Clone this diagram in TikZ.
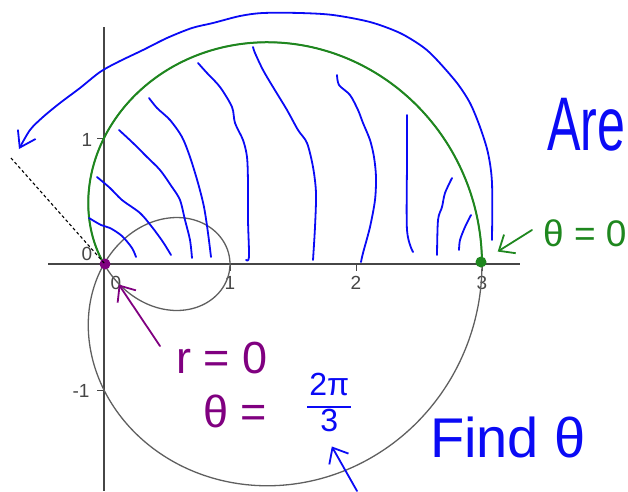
\documentclass[tikz,border=0pt]{standalone}
\usepackage{amsmath,amssymb}
\usepackage{fontspec}
\setmainfont{Liberation Sans}
\usetikzlibrary{arrows.meta,positioning}
\definecolor{penBlue}{RGB}{10,10,245}
\definecolor{penGreen}{RGB}{30,135,30}
\definecolor{penPurple}{RGB}{128,0,128}
\definecolor{axisGray}{RGB}{70,70,70}
\definecolor{loopGray}{RGB}{95,95,95}
\tikzset{
  axis/.style={draw=axisGray, line width=1.4pt},
  loopline/.style={draw=loopGray, line width=1.3pt},
  ink/.style={draw=penBlue, line width=1.8pt, line cap=round, line join=round},
  greenink/.style={ink, draw=penGreen},
  purpleink/.style={ink, draw=penPurple},
  barb/.style={-{Straight Barb[length=13pt, width=22pt]}},
  ticklabel/.style={text=axisGray, font=\fontsize{19}{19}\selectfont, inner sep=0pt},
  hand/.style={inner sep=0pt, text=penBlue},
  dot/.style={circle, inner sep=0pt, minimum size=11pt}
}

\begin{document}
\begin{tikzpicture}[x=1pt, y=-1pt]
\useasboundingbox (0,0) rectangle (628,491);
% axes and ticks
\draw[axis] (48,264) -- (520,264);
\draw[axis] (104,27) -- (104,491);
\foreach \px in {230,356,482} \draw[axis, line width=1pt] (\px,264) -- (\px,271);
\foreach \py in {138,390} \draw[axis, line width=1pt] (97,\py) -- (104,\py);
\node[ticklabel] (lbl0a) at (87,254) {0};
\node[ticklabel] (lbl0b) at (116,283) {0};
\node[ticklabel] (lbl1) at (230,283) {1};
\node[ticklabel] (lbl2) at (356,283) {2};
\node[ticklabel] (lbl3) at (482,283) {3};
\node[ticklabel] (lbly1) at (87,140) {1};
\node[ticklabel] (lblym1) at (81,391) {-1};

% limacon r = 1 + 2 cos t
\draw[loopline] plot[domain=0:360, samples=240, smooth]
  ({104+126*(1+2*cos(\x))*cos(\x)}, {264-126*(1+2*cos(\x))*sin(\x)});
\draw[greenink, line width=2pt] plot[domain=0:120, samples=90, smooth]
  ({104+126*(1+2*cos(\x))*cos(\x)}, {264-126*(1+2*cos(\x))*sin(\x)});

% shading strokes
\draw[ink] plot[smooth] coordinates {(89,218) (101,225) (110,228) (122,236) (132,248) (136,257)};
\draw[ink] plot[smooth] coordinates {(97,177) (110,188) (122,200) (140,213) (152,227) (163,242) (171,255)};
\draw[ink] plot[smooth] coordinates {(119,130) (133,143) (147,157) (160,170) (172,187) (180,200) (185,220) (190,240) (192,258)};
\draw[ink] plot[smooth] coordinates {(149,98) (157,108) (170,120) (182,137) (190,157) (198,183) (204,207) (208,233) (211,257)};
\draw[ink] plot[smooth] coordinates {(198,63) (207,73) (220,87) (232,107) (235,123) (243,140) (247,157) (248,183) (248,220) (249,257) (246,260)};
\draw[ink] plot[smooth] coordinates {(253,47) (255,53) (263,70) (273,87) (287,110) (298,130) (307,143) (313,167) (316,193) (315,227) (313,260)};
\draw[ink] plot[smooth] coordinates {(337,75) (339,85) (350,95) (358,110) (363,123) (370,140) (374,157) (376,177) (375,200) (370,227) (363,253) (361,262)};
\draw[ink] plot[smooth] coordinates {(407,115) (407,160) (407,230) (413,252)};
\draw[ink] plot[smooth] coordinates {(452,178) (445,193) (442,207) (438,220) (437,255)};
\draw[ink] plot[smooth] coordinates {(471,215) (465,227) (460,240) (459,250)};

% sweep arrow
\draw[ink, -{Straight Barb[length=15pt, width=20pt]}] plot[smooth] coordinates {(492,240) (492,183) (488,153) (480,127) (470,103) (457,83) (437,60) (423,47) (400,33) (370,22) (333,15) (300,13) (263,13) (240,16) (213,23) (192,28) (167,38) (143,50) (118,62) (100,72) (80,88) (60,103) (43,117) (30,130) (19,149)};

% end points
\node[dot, fill=penPurple] (origindot) at (105,264) {};
\node[dot, fill=penGreen] (greendot) at (481,262) {};
\coordinate (raytail) at (11,158);
\draw[black, line width=1.1pt, dash pattern=on 3pt off 2.5pt] (raytail) -- (origindot.center);

% labels
\node[hand, anchor=west, font=\fontsize{76}{76}\selectfont] (areaword) at (547,125) {\scalebox{0.66}[1]{Are}};
\node[hand, anchor=west, text=penGreen, font=\fontsize{37}{37}\selectfont] (thetazero) at (543,233) {θ = 0};
\node[hand, text=penPurple, font=\fontsize{45}{45}\selectfont] (rzero) at (222,358) {r = 0};
\node[hand, anchor=west, text=penPurple, font=\fontsize{45}{45}\selectfont] (thetaeq) at (203,411) {θ =};
\node[hand, right=40pt of thetaeq, yshift=4pt, font=\fontsize{32}{34}\selectfont]
  (twopi) {\setlength{\arrayrulewidth}{1.8pt}\setlength{\tabcolsep}{2pt}\begin{tabular}{c}2π\\\hline 3\end{tabular}};
\node[hand, anchor=west, font=\fontsize{56}{56}\selectfont] (findword) at (430,437) {Find θ};

% pointers
\coordinate (gtail) at (532,230);
\coordinate (rtail) at (160,346);
\coordinate (btail) at (357,491);
\draw[greenink, barb, shorten >=14pt] (gtail) -- (greendot);
\draw[purpleink, barb, shorten >=19pt] (rtail) -- (origindot);
\draw[ink, barb, shorten >=5pt] (btail) -- (twopi.south);
\end{tikzpicture}
\end{document}
